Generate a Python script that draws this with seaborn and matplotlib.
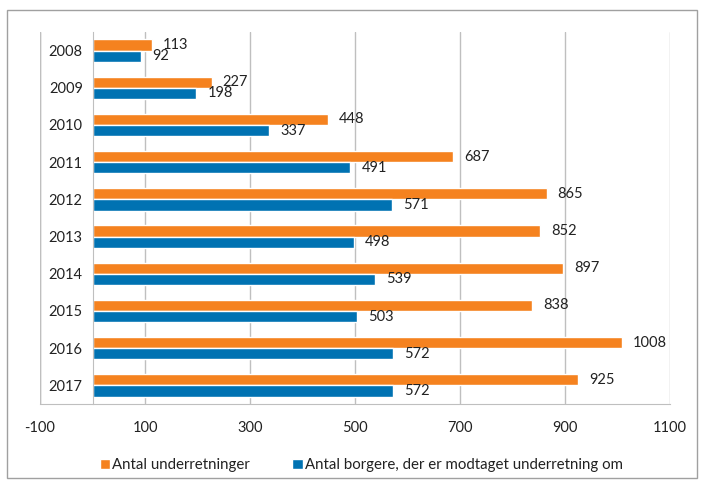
import numpy as np
import pandas as pd
import matplotlib
matplotlib.use('Agg')
import matplotlib.pyplot as plt
import seaborn as sns
from matplotlib.patches import Rectangle
from matplotlib.ticker import FixedLocator

# data
years = ['2008', '2009', '2010', '2011', '2012', '2013', '2014', '2015', '2016', '2017']
underretninger = [113, 227, 448, 687, 865, 852, 897, 838, 1008, 925]
borgere = [92, 198, 337, 491, 571, 498, 539, 503, 572, 572]
series_names = ['Antal underretninger', 'Antal borgere, der er modtaget underretning om']
colors = ['#F5821F', '#0072B2']
xticks = list(range(-100, 1101, 200))

df = pd.DataFrame({
    'year': years * 2,
    'value': underretninger + borgere,
    'series': [series_names[0]] * len(years) + [series_names[1]] * len(years),
})

sns.set_style('white')
plt.rcParams['font.family'] = ['Lato', 'DejaVu Sans']

fig = plt.figure(figsize=(7.03, 4.83), dpi=100)
ax = fig.add_axes([40 / 703, 1 - 404 / 483, 630 / 703, 372 / 483])

sns.barplot(data=df, y='year', x='value', hue='series', order=years,
            hue_order=series_names, palette=colors, orient='h', width=0.6,
            saturation=1, ax=ax, legend=True)

for cont in ax.containers:
    ax.bar_label(cont, padding=8, fontsize=10.5, color='#222222')

grid_col = '#BFBFBF'
ax.set_xlim(-100, 1100)
ax.set_xticks(xticks)
ax.set_xticklabels([str(t) for t in xticks], fontsize=10.5, color='#222222')
ax.xaxis.grid(True, color=grid_col, linewidth=1)
ax.yaxis.grid(False)
ax.set_axisbelow(True)
ax.set_xlabel('')
ax.set_ylabel('')

# category axis crosses at 0
ax.spines['left'].set_position(('data', 0))
ax.spines['left'].set_color(grid_col)
ax.spines['bottom'].set_color(grid_col)
ax.spines['top'].set_visible(False)
ax.spines['right'].set_visible(False)
ax.axvline(-100, color=grid_col, linewidth=1, zorder=0)

ax.tick_params(axis='y', which='major', length=0, pad=7, labelsize=10.5, labelcolor='#222222')
ax.yaxis.set_minor_locator(FixedLocator(np.arange(-0.5, len(years), 1.0)))
ax.tick_params(axis='y', which='minor', length=4, color=grid_col, width=1, direction='out')
ax.tick_params(axis='x', which='major', length=4, color=grid_col, width=1, direction='out', pad=8)

leg = ax.legend(loc='upper center', bbox_to_anchor=(0.51, -0.11), ncol=2, frameon=False,
                fontsize=10.8, handlelength=0.7, handleheight=0.7, handletextpad=0.15,
                columnspacing=2.8)
for t in leg.get_texts():
    t.set_color('#222222')

# outer border
fig.patches.append(Rectangle((7 / 703, 1 - 478 / 483), 690 / 703, 468 / 483,
                             transform=fig.transFigure, fill=False,
                             edgecolor='#A0A0A0', linewidth=1))

fig.savefig('out.png', dpi=100)
